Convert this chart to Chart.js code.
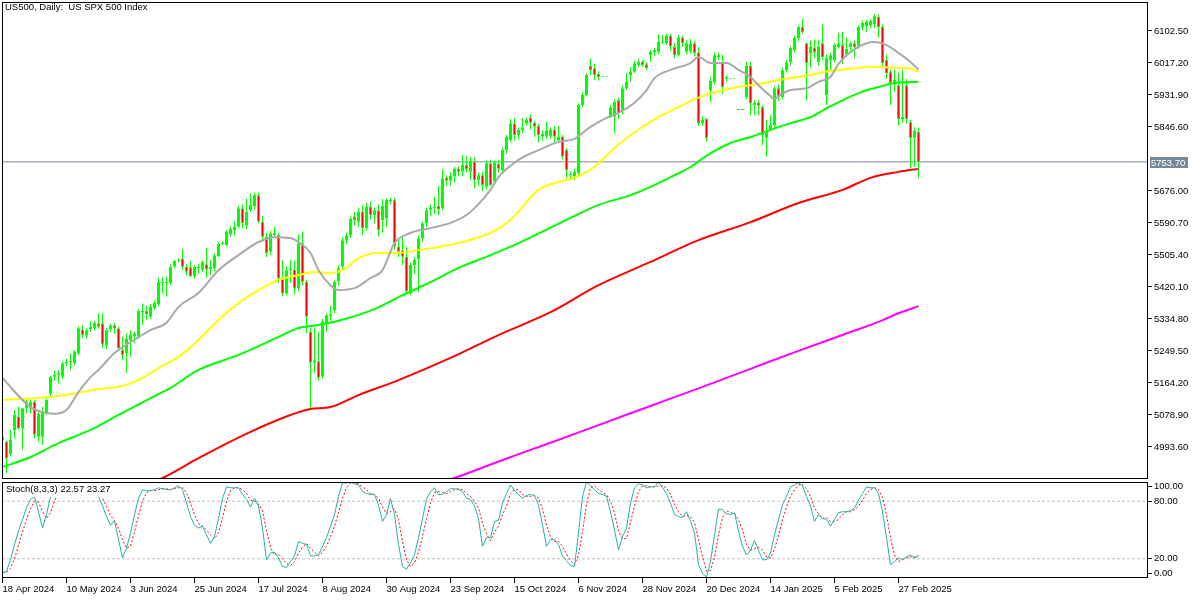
<!DOCTYPE html>
<html>
<head>
<meta charset="utf-8">
<script src="https://cdn.jsdelivr.net/npm/chart.js@4.4.1/dist/chart.umd.min.js"></script>
<style>
  html, body { margin: 0; padding: 0; background: #fff; }
  #wrap { position: relative; width: 1200px; height: 600px; }
  #mainChart { position: absolute; left: 0; top: 0; }
  #stochChart { position: absolute; left: 0; top: 480px; }
</style>
</head>
<body>
<div id="wrap">
  <canvas id="mainChart" width="1200" height="480"></canvas>
  <canvas id="stochChart" width="1200" height="120"></canvas>
</div>
<script>
// --- datos (US500 diario, 18 Apr 2024 - 6 Mar 2025) ---
const opens = [
  5010,5008,4975,5039,5075,5043,5097,5094,5114,5021, 5021,5083,5137,5181,5185,5181,5216,5220,5217,5243,
  5307,5290,5308,5310,5323,5323,5265,5307,5318,5310, 5252,5243,5279,5288,5288,5352,5356,5341,5363,5375,
  5430,5433,5430,5474,5490,5496,5474,5473,5449,5470, 5465,5481,5468,5470,5503,5535,5532,5560,5572,5581,
  5630,5585,5625,5636,5665,5594,5554,5514,5565,5559, 5443,5403,5465,5467,5417,5537,5434,5301,5218,5222,
  5181,5323,5343,5359,5436,5474,5545,5558,5608,5594, 5621,5577,5634,5612,5625,5598,5603,5652,5652,5528,
  5518,5501,5403,5479,5495,5550,5590,5626,5630,5636, 5630,5712,5703,5714,5736,5727,5745,5727,5754,5705,
  5718,5688,5750,5701,5748,5732,5785,5812,5856,5825, 5838,5856,5872,5858,5849,5828,5821,5821,5840,5812,
  5821,5785,5721,5714,5723,5905,5932,6009,6003,5988, 5979,5979,5874,5874,5918,5888,5950,5985,5994,6012,
  6020,6014,6038,6045,6047,6074,6070,6089,6060,6038, 6085,6047,6048,6070,6046,5857,5868,5945,5966,6038,
  6017,5980,5974,5974,5892,5892,5926,6009,5905,5912, 5900,5818,5838,5852,5950,5926,5998,6019,6052,6084,
  6113,6070,6043,6057,6020,6070,5932,6025,6025,6060, 6065,6040,6060,6070,6060,6113,6116,6118,6121,6140,
  6113,6025,5993,5960,5958,5868,5958,5860,5818,5833
];
const highs = [
  5030,5010,5039,5092,5101,5097,5119,5119,5119,5088, 5101,5123,5183,5196,5199,5222,5228,5243,5252,5315,
  5318,5310,5328,5330,5350,5350,5310,5322,5325,5314, 5288,5296,5305,5301,5360,5376,5370,5375,5385,5445,
  5447,5448,5480,5492,5496,5521,5480,5490,5478,5482, 5490,5524,5492,5510,5540,5542,5572,5582,5594,5636,
  5640,5656,5670,5672,5672,5610,5565,5570,5580,5565, 5492,5475,5492,5490,5560,5568,5440,5310,5312,5300,
  5335,5350,5370,5438,5478,5552,5565,5608,5620,5630, 5638,5645,5648,5632,5640,5655,5655,5658,5658,5550,
  5555,5528,5485,5500,5558,5595,5632,5640,5660,5690, 5733,5718,5725,5740,5742,5772,5770,5765,5765,5725,
  5727,5757,5760,5757,5758,5792,5825,5868,5870,5845, 5870,5872,5880,5862,5855,5838,5860,5845,5848,5850,
  5825,5790,5728,5735,5910,5940,5990,6029,6016,5995, 5979,5979,5905,5920,5925,5958,5990,6007,6022,6028,
  6025,6020,6052,6058,6094,6092,6095,6095,6070,6092, 6090,6078,6082,6075,6060,5875,5872,5980,6045,6045,
  6040,5985,5974,5974,5892,5892,6022,6020,5918,5918, 5905,5865,5878,5955,5960,6005,6025,6062,6090,6118,
  6135,6072,6078,6080,6080,6120,6040,6045,6070,6098, 6100,6085,6075,6078,6118,6130,6132,6134,6148,6145,
  6120,6040,6000,6000,5990,5999,5975,5865,5846,5845
];
const lows = [
  5002,4923,4968,5017,5040,4986,5083,5083,5017,5008, 4999,5079,5128,5170,5163,5175,5208,5199,5210,5238,
  5285,5283,5301,5305,5309,5257,5255,5300,5295,5250, 5225,5190,5234,5270,5283,5319,5332,5335,5358,5368,
  5403,5394,5425,5470,5486,5465,5451,5447,5443,5456, 5460,5445,5452,5462,5500,5532,5528,5555,5558,5576,
  5576,5575,5620,5625,5590,5540,5500,5505,5550,5430, 5395,5398,5430,5400,5410,5425,5297,5094,5190,5170,
  5175,5300,5330,5350,5425,5468,5535,5550,5585,5580, 5558,5570,5600,5590,5555,5565,5580,5640,5520,5500,
  5478,5400,5398,5455,5406,5540,5580,5610,5615,5612, 5625,5690,5690,5700,5715,5715,5725,5705,5683,5690,
  5675,5680,5688,5695,5725,5725,5775,5806,5810,5815, 5830,5850,5840,5820,5805,5810,5815,5815,5805,5805,
  5760,5711,5708,5705,5718,5900,5928,5985,5972,5970, 5979,5979,5870,5830,5868,5880,5945,5967,5990,6005,
  6008,5998,6020,6035,6040,6068,6065,6050,6030,6035, 6060,6040,6042,6035,5850,5850,5808,5913,5960,6025,
  5935,5968,5974,5974,5892,5892,5920,5878,5878,5878, 5798,5767,5836,5845,5915,5920,5992,6010,6045,6075,
  6095,5918,6005,6030,6010,6025,5905,5995,6020,6055, 6015,6035,6045,6030,6055,6105,6100,6110,6110,6085,
  6010,5975,5905,5940,5850,5858,5855,5737,5740,5710
];
const closes = [
  5020,4963,5012,5079,5043,5097,5114,5114,5026,5083, 5088,5119,5181,5186,5190,5217,5221,5222,5248,5310,
  5292,5305,5314,5325,5314,5268,5305,5318,5310,5257, 5239,5283,5292,5297,5356,5356,5348,5368,5378,5434,
  5434,5431,5474,5490,5492,5474,5461,5449,5474,5474, 5488,5467,5474,5505,5535,5538,5568,5576,5580,5630,
  5590,5621,5639,5665,5594,5554,5510,5563,5559,5443, 5403,5465,5469,5417,5537,5434,5341,5218,5225,5178,
  5328,5345,5347,5434,5470,5545,5558,5603,5599,5621, 5577,5634,5612,5625,5572,5636,5652,5648,5528,5514,
  5501,5408,5479,5492,5550,5590,5625,5632,5634,5627, 5710,5703,5716,5736,5727,5745,5734,5754,5705,5718,
  5692,5750,5692,5752,5735,5785,5821,5856,5825,5839, 5846,5865,5858,5847,5825,5821,5837,5840,5821,5821,
  5768,5732,5718,5727,5905,5932,5985,5998,5985,5979, 5979,5979,5899,5914,5883,5950,5967,5994,6016,6021,
  6012,6004,6047,6052,6074,6071,6089,6062,6038,6085, 6070,6070,6070,6044,5857,5866,5817,5969,6038,6033,
  5953,5975,5974,5974,5892,5892,6009,5910,5911,5903, 5825,5838,5852,5950,5926,5998,6019,6057,6084,6113,
  6100,6017,6060,6046,6062,6033,6030,6038,6065,6070, 6025,6055,6070,6060,6113,6124,6127,6130,6142,6113,
  6017,5990,5964,5972,5868,5873,5868,5817,5836,5753.7
];

// medias moviles: indice de barra y valor
const maGreyIdx   = [0,7,11,13,16,19,22,24,28,32,37,41,44,49,54,59,64,68,72,74,77,79,82,84,88,92,95,98,102,107,112,116,119,122,124,129,134,139,143,147,151,154,158,161,163,167,172,174,177,181,184,187,189,192,193,194,197,201,204,207,209,214,218,221,224,227,229];
const maGreyVal   = [5177,5100,5084,5082,5092,5140,5180,5199,5244,5273,5305,5325,5367,5404,5465,5505,5540,5553,5551,5540,5511,5465,5425,5412,5417,5444,5465,5537,5564,5577,5591,5612,5641,5679,5713,5759,5785,5807,5815,5847,5871,5884,5911,5945,5977,5999,6017,6033,6017,6017,5999,5980,5958,5929,5921,5929,5945,5950,5967,5980,6015,6060,6073,6065,6044,6020,5999];
const maYellowIdx = [0,12,19,24,29,34,39,44,49,54,59,64,69,74,78,82,86,89,94,99,104,109,114,119,122,127,134,139,143,147,149,154,159,164,169,174,179,184,189,194,199,207,214,219,224,227,229];
const maYellowVal = [5119,5127,5138,5148,5154,5172,5204,5234,5279,5332,5377,5412,5439,5452,5460,5457,5471,5497,5511,5511,5519,5527,5537,5553,5564,5599,5679,5700,5712,5733,5750,5800,5840,5873,5900,5925,5942,5953,5961,5972,5980,5996,6004,6007,6004,6002,5993];
const maGreenIdx  = [0,7,14,22,29,37,42,49,59,69,74,79,84,93,99,107,114,122,129,141,149,157,162,167,172,177,182,187,192,197,202,207,214,219,223,229];
const maGreenVal  = [4940,4967,5004,5039,5079,5124,5151,5199,5239,5287,5311,5319,5330,5361,5393,5433,5471,5505,5537,5599,5639,5665,5687,5713,5740,5777,5804,5820,5839,5857,5873,5902,5937,5953,5964,5967];
const maRedIdx    = [36,40,49,62,72,77,82,89,99,112,124,137,149,162,174,187,199,210,217,224,229];
const maRedVal    = [4895,4911,4964,5034,5079,5095,5100,5132,5172,5231,5292,5353,5425,5487,5545,5593,5644,5679,5711,5727,5735];
const maPinkIdx   = [108,113,124,137,149,162,174,187,199,212,219,224,229];
const maPinkVal   = [4895,4911,4955,5005,5052,5103,5150,5202,5250,5300,5327,5350,5369];

// estocastico (8,3,3)
const stochK = [
  5,7,19,35,49,61,73,82,85,69, 52,66,85,90,93,95,96,96,97,97, 96,95,93,90,85,75,64,55,60,40,
  21,31,47,66,83,92,91,91,92,94, 93,92,92,94,96,92,78,64,55,52, 54,45,36,43,62,83,95,94,94,94,
  87,82,74,83,75,52,19,26,27,21, 12,11,17,23,38,36,35,23,23,24, 33,42,54,66,85,99,99,100,98,97,
  90,88,87,87,76,59,66,83,66,35, 12,9,16,24,42,62,82,90,94,87, 87,90,93,93,92,90,83,82,75,62,
  33,42,42,59,60,78,88,97,91,87, 83,86,87,86,76,55,33,40,40,35, 23,18,13,12,47,85,100,96,92,88,
  87,85,69,50,29,43,52,78,94,98, 97,94,95,95,100,94,88,78,66,64, 63,69,59,47,14,5,1,17,45,72,
  71,67,66,68,49,33,24,29,39,29, 19,19,26,45,61,76,85,95,97,99, 96,85,75,59,66,62,61,54,61,68,
  69,69,70,73,81,88,95,94,94,88, 69,42,14,17,21,19,22,24,21,22.57
];
const stochD = [
  6,6,10,20,34,48,61,72,80,79, 69,62,68,80,89,93,95,96,96,97, 97,96,95,93,89,83,75,65,60,52,
  40,31,33,48,65,80,89,91,91,92, 93,93,92,93,94,94,89,78,66,57, 54,50,45,41,47,63,80,91,94,94,
  92,88,81,80,77,70,49,32,24,25, 20,15,13,17,26,32,36,31,27,23, 27,33,43,54,68,83,94,99,99,98,
  95,92,88,87,83,74,67,69,72,61, 38,19,12,16,27,43,62,78,89,90, 89,88,90,92,93,92,88,85,80,73,
  57,46,39,48,54,66,75,88,92,92, 87,85,85,86,83,72,55,43,38,38, 33,25,18,14,24,48,77,94,96,92,
  89,87,80,68,49,41,41,58,75,90, 96,96,95,95,96,96,94,87,77,69, 64,65,64,58,40,22,7,8,21,45,
  63,70,68,67,61,50,35,29,31,32, 29,22,21,30,44,61,74,85,92,97, 97,93,85,73,67,62,63,59,59,61,
  66,69,69,71,75,81,88,92,94,92, 84,66,42,24,17,19,21,22,22,23.27
];
const stochLevels = [80, 20];

// ejes
const priceTicks = [6102.5, 6017.2, 5931.9, 5846.6, 5676.0, 5590.7, 5505.4, 5420.1, 5334.8, 5249.5, 5164.2, 5078.9, 4993.6];
const stochTickPos  = [95.8, 80, 20, 5.2];
const stochTickText = ['100.00', '80.00', '20.00', '0.00'];
const dateTickBars  = [0,16,32,48,64,80,96,112,128,144,160,176,192,208,224];
const dateTickText  = ['18 Apr 2024','10 May 2024','3 Jun 2024','25 Jun 2024','17 Jul 2024','8 Aug 2024','30 Aug 2024',
                       '23 Sep 2024','15 Oct 2024','6 Nov 2024','28 Nov 2024','20 Dec 2024','14 Jan 2025','5 Feb 2025','27 Feb 2025'];

const title = 'US500, Daily:  US SPX 500 Index';
const lastPrice = closes[closes.length - 1];

const FONT = '"Liberation Sans", Arial, sans-serif';
const FSIZE = 9.5;
const X_MIN = -0.125, X_MAX = 286.375;   // 4 px por barra

const pts = (idx, vals) => idx.map((x, i) => ({ x, y: vals[i] }));

// sin margen extra por las etiquetas de los extremos
const noPad = s => { s.paddingTop = 0; s.paddingBottom = 0; s.paddingLeft = 0; s.paddingRight = 0; };

// marco negro del area
const framePlugin = {
  id: 'frame',
  afterDraw(chart) {
    const { ctx, chartArea: a } = chart;
    ctx.save();
    ctx.strokeStyle = '#000';
    ctx.lineWidth = 1;
    ctx.strokeRect(a.left + 0.5, a.top + 0.5, a.right - a.left - 1, a.bottom - a.top - 1);
    ctx.restore();
  }
};

const mainText = {
  id: 'mainText',
  afterDraw(chart) {
    const { ctx, chartArea: a } = chart;
    const y = Math.round(chart.scales.y.getPixelForValue(lastPrice));
    ctx.save();
    ctx.font = FSIZE + 'px ' + FONT;
    ctx.textBaseline = 'top';
    ctx.fillStyle = '#000';
    ctx.fillText(title, a.left + 3, a.top + 1);
    // etiqueta de precio actual
    ctx.fillStyle = '#778899';
    ctx.fillRect(a.right + 2, y - 5, 38, 11);
    ctx.fillStyle = '#fff';
    ctx.textBaseline = 'middle';
    ctx.fillText(lastPrice.toFixed(2), a.right + 3, y + 1);
    ctx.restore();
  }
};

const stochText = {
  id: 'stochText',
  afterDatasetsDraw(chart) {
    const { ctx, chartArea: a } = chart;
    const txt = 'Stoch(8,3,3) ' + stochK[stochK.length - 1].toFixed(2) + ' ' + stochD[stochD.length - 1].toFixed(2);
    ctx.save();
    ctx.font = FSIZE + 'px ' + FONT;
    const w = ctx.measureText(txt).width;
    ctx.fillStyle = '#fff';
    ctx.fillRect(a.left + 1, a.top + 1, w + 6, 14);
    ctx.fillStyle = '#000';
    ctx.textBaseline = 'top';
    ctx.fillText(txt, a.left + 4, a.top + 3);
    ctx.restore();
  }
};

Chart.defaults.font.family = FONT;
Chart.defaults.font.size = FSIZE;
Chart.defaults.color = '#000';

// --- grafica principal ---
new Chart(document.getElementById('mainChart'), {
  type: 'bar',
  data: {
    datasets: [
      { type: 'line', data: pts(maGreyIdx, maGreyVal), borderColor: '#a9a9a9', borderWidth: 2, pointRadius: 0, cubicInterpolationMode: 'monotone', order: 0 },
      { type: 'line', data: pts(maYellowIdx, maYellowVal), borderColor: '#ffff00', borderWidth: 2, pointRadius: 0, cubicInterpolationMode: 'monotone', order: 0 },
      { type: 'line', data: pts(maGreenIdx, maGreenVal), borderColor: '#00ff00', borderWidth: 2, pointRadius: 0, cubicInterpolationMode: 'monotone', order: 0 },
      { type: 'line', data: pts(maRedIdx, maRedVal), borderColor: '#ff0000', borderWidth: 2, pointRadius: 0, cubicInterpolationMode: 'monotone', order: 0 },
      { type: 'line', data: pts(maPinkIdx, maPinkVal), borderColor: '#ff00ff', borderWidth: 2, pointRadius: 0, cubicInterpolationMode: 'monotone', order: 0 },
      { type: 'line', data: [{ x: X_MIN, y: lastPrice }, { x: X_MAX, y: lastPrice }], borderColor: '#778899', borderWidth: 1, pointRadius: 0, order: 3 },
      {
        data: closes.map((c, i) => ({ x: i, y: [opens[i], c] })),
        backgroundColor: closes.map((c, i) => c < opens[i] ? '#ff0000' : '#00ff00'),
        borderColor: '#00ff00', borderWidth: 1, borderSkipped: false,
        barThickness: 3, minBarLength: 1, grouped: false, inflateAmount: 0, order: 1
      },
      {
        data: highs.map((h, i) => ({ x: i, y: [lows[i], h] })),
        backgroundColor: '#00ff00', borderWidth: 0,
        barThickness: 1, grouped: false, inflateAmount: 0, order: 2
      }
    ]
  },
  options: {
    responsive: false,
    animation: false,
    devicePixelRatio: 1,
    layout: { padding: { left: 2, top: 2, right: 0, bottom: 1 } },
    plugins: { legend: { display: false }, tooltip: { enabled: false } },
    scales: {
      x: { type: 'linear', min: X_MIN, max: X_MAX, display: false, offset: false },
      y: {
        position: 'right', min: 4908.3, max: 6179.8,
        afterBuildTicks: s => { s.ticks = priceTicks.map(v => ({ value: v })); },
        afterFit: s => { s.width = 52; noPad(s); },
        border: { display: false },
        grid: { drawOnChartArea: false, drawTicks: true, tickLength: 4, tickColor: '#000' },
        ticks: { padding: 2, autoSkip: false, callback: v => v.toFixed(2) }
      }
    }
  },
  plugins: [framePlugin, mainText]
});

// --- estocastico ---
new Chart(document.getElementById('stochChart'), {
  type: 'line',
  data: {
    datasets: [
      { data: stochK.map((v, i) => ({ x: i, y: v })), borderColor: '#20b2aa', borderWidth: 1, pointRadius: 0 },
      { data: stochD.map((v, i) => ({ x: i, y: v })), borderColor: '#ff0000', borderWidth: 1, borderDash: [2, 2], pointRadius: 0 },
      ...stochLevels.map(l => ({ data: [{ x: X_MIN, y: l }, { x: X_MAX, y: l }], borderColor: '#c0c0c0', borderWidth: 1, borderDash: [3, 2], pointRadius: 0, order: 5 }))
    ]
  },
  options: {
    responsive: false,
    animation: false,
    devicePixelRatio: 1,
    layout: { padding: { left: 2, top: 2, right: 0, bottom: 0 } },
    plugins: { legend: { display: false }, tooltip: { enabled: false } },
    scales: {
      x: {
        type: 'linear', min: X_MIN, max: X_MAX, position: 'bottom', offset: false,
        afterBuildTicks: s => { s.ticks = dateTickBars.map(v => ({ value: v })); },
        afterFit: s => { s.height = 22; noPad(s); },
        border: { display: false },
        grid: { drawOnChartArea: false, drawTicks: true, tickLength: 5, tickColor: '#000' },
        ticks: { align: 'start', padding: 1, maxRotation: 0, autoSkip: false,
                 callback: v => dateTickText[dateTickBars.indexOf(v)] }
      },
      y: {
        position: 'right', min: 0, max: 100,
        afterBuildTicks: s => { s.ticks = stochTickPos.map(v => ({ value: v })); },
        afterFit: s => { s.width = 52; noPad(s); },
        border: { display: false },
        grid: { drawOnChartArea: false, drawTicks: true, tickLength: 4, tickColor: '#000' },
        ticks: { padding: 2, autoSkip: false, callback: v => stochTickText[stochTickPos.indexOf(v)] }
      }
    }
  },
  plugins: [framePlugin, stochText]
});
</script>
</body>
</html>
